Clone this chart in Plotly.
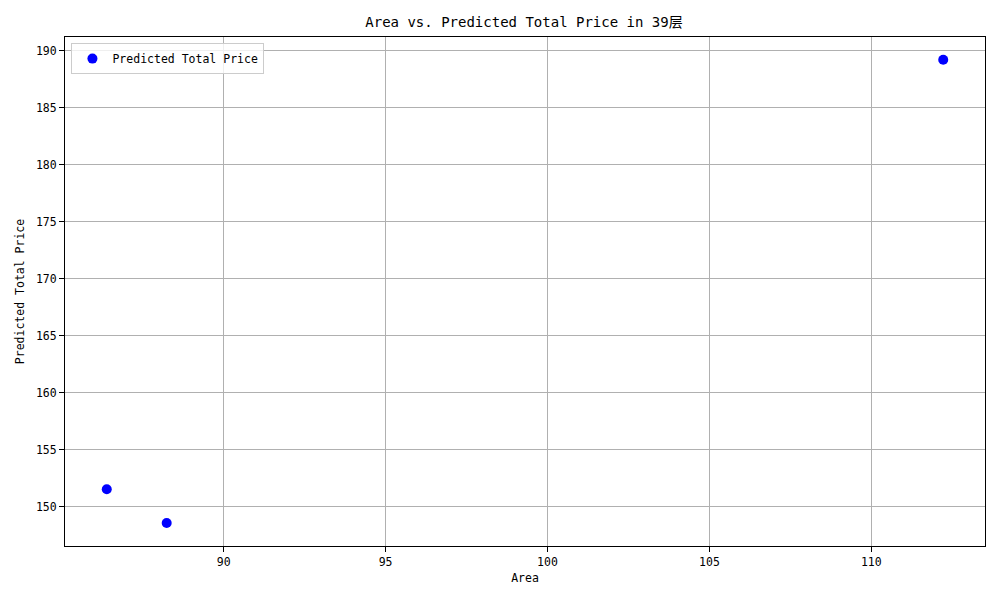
import plotly.graph_objects as go

area = [86.39, 88.24, 112.22]
predicted_price = [151.55, 148.6, 189.2]
x_ticks = [90, 95, 100, 105, 110]
y_ticks = [150, 155, 160, 165, 170, 175, 180, 185, 190]

FONT = "DejaVu Sans Mono, Noto Sans CJK SC, monospace"

fig = go.Figure()
fig.add_trace(go.Scatter(
    x=area, y=predicted_price, mode="markers",
    name="Predicted Total Price",
    marker=dict(color="blue", size=10),
))

axis_common = dict(
    showline=True, linecolor="black", linewidth=1, mirror=True,
    showgrid=True, gridcolor="#b0b0b0", gridwidth=1,
    ticks="outside", ticklen=5, tickcolor="black", tickwidth=1,
    zeroline=False, tickfont=dict(family=FONT, size=11.5, color="black"),
)

# page body has an 8px margin; compensate so the plot lands where the reference has it
fig.update_layout(
    width=992, height=592,
    paper_bgcolor="white", plot_bgcolor="white",
    margin=dict(l=54, r=15, t=29, b=54),
    title=dict(text="Area vs. Predicted Total Price in 39层", x=(524 - 8) / 992, xanchor="center",
               y=1 - 14 / 592, yanchor="middle",
               font=dict(family=FONT, size=14, color="black")),
    xaxis=dict(range=[85.1, 113.51], tickvals=x_ticks,
               title=dict(text="Area", font=dict(family=FONT, size=11.5, color="black"), standoff=6),
               **axis_common),
    yaxis=dict(range=[146.58, 191.2], tickvals=y_ticks,
               title=dict(text="Predicted Total Price", font=dict(family=FONT, size=11.5, color="black"), standoff=8),
               **axis_common),
    showlegend=True,
    legend=dict(x=0.007, y=0.988, xanchor="left", yanchor="top",
                bgcolor="rgba(255,255,255,0.8)", bordercolor="#cccccc", borderwidth=1,
                font=dict(family=FONT, size=11.5, color="black")),
)

fig.write_html("out.html")
